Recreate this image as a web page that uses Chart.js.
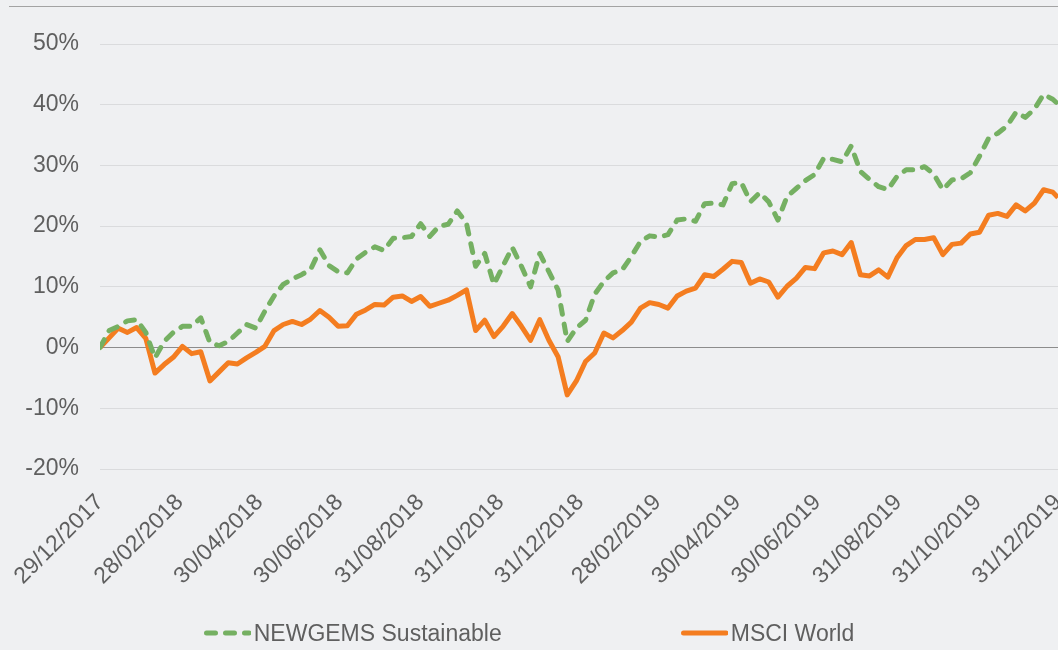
<!DOCTYPE html>
<html>
<head>
<meta charset="utf-8">
<script src="https://cdn.jsdelivr.net/npm/chart.js@4.4.1/dist/chart.umd.min.js"></script>
<style>
  html, body { margin: 0; padding: 0; background: #eff0f2; }
  #wrap { position: relative; width: 1058px; height: 650px; overflow: hidden; }
  #topline { position: absolute; left: 9px; right: 0; top: 6px; height: 1px; background: #a3a3a3; }
  #legend { position: absolute; left: 0; width: 1058px; top: 620px; display: flex; justify-content: center; gap: 179px;
            font: 23px "Liberation Sans", Arial, sans-serif; color: #5f5f5f; line-height: 26px; }
  .item { display: flex; align-items: center; }
  .item svg { margin-right: 3px; }
</style>
</head>
<body>
<div id="wrap">
  <canvas id="chart" width="1058" height="650"></canvas>
  <div id="topline"></div>
  <div id="legend"></div>
</div>
<script>
// x axis: days since 29/12/2017, tick labels every two months
var tickDays = [0, 61, 122, 183, 245, 306, 367, 426, 487, 548, 610, 671, 732];
var tickLabels = ['29/12/2017', '28/02/2018', '30/04/2018', '30/06/2018', '31/08/2018', '31/10/2018',
                  '31/12/2018', '28/02/2019', '30/04/2019', '30/06/2019', '31/08/2019', '31/10/2019', '31/12/2019'];

// weekly observations (day offsets), last one on 31/12/2019
var days = [];
for (var d = 0; d <= 728; d += 7) days.push(d);
days.push(732);

// cumulative performance, %
var newgems = [
  0, 2.8, 3.5, 4.4, 4.6, 2.5, -1.7, 1.0, 2.5, 3.5,
  3.5, 4.9, 0.8, 0.3, 1.0, 2.4, 3.8, 3.2, 6.0, 8.5,
  10.4, 11.3, 12.0, 12.9, 16.1, 13.5, 12.5, 12.3, 14.6, 15.7,
  16.6, 16.0, 18.0, 18.1, 18.3, 20.4, 18.3, 20.0, 20.3, 22.5,
  20.5, 13.4, 15.5, 10.4, 13.5, 16.5, 13.4, 10.0, 15.5, 12.5,
  9.5, 1.0, 3.2, 4.5, 8.8, 10.9, 12.3, 12.8, 15.0, 17.5,
  18.4, 18.2, 18.6, 21.0, 21.2, 20.8, 23.7, 23.8, 23.5, 27.0,
  27.2, 24.0, 25.5, 24.0, 21.0, 24.9, 26.2, 27.5, 28.5, 31.2,
  31.0, 30.6, 33.2, 29.0, 27.7, 26.5, 26.0, 28.2, 29.3, 29.3,
  29.8, 28.6, 26.0, 27.6, 27.8, 28.8, 31.5, 34.5, 35.3, 36.5,
  38.8, 37.9, 39.3, 41.7, 40.9, 40.1
];
var msci = [
  0, 1.6, 3.2, 2.5, 3.3, 1.5, -4.2, -2.8, -1.6, 0.2,
  -1.0, -0.7, -5.5, -4.0, -2.5, -2.7, -1.7, -0.8, 0.2, 2.8,
  3.8, 4.3, 3.8, 4.7, 6.1, 5.0, 3.5, 3.6, 5.5, 6.2,
  7.1, 7.0, 8.3, 8.5, 7.6, 8.4, 6.8, 7.3, 7.8, 8.6,
  9.5, 2.8, 4.5, 1.8, 3.5, 5.6, 3.5, 1.2, 4.6, 1.2,
  -1.5, -7.8, -5.5, -2.3, -0.9, 2.4, 1.6, 2.8, 4.2, 6.5,
  7.4, 7.1, 6.5, 8.5, 9.3, 9.8, 12.0, 11.7, 12.9, 14.2,
  14.0, 10.6, 11.3, 10.8, 8.3, 10.1, 11.4, 13.2, 13.0, 15.6,
  15.9, 15.3, 17.3, 12.0, 11.8, 12.8, 11.6, 14.8, 16.8, 17.8,
  17.8, 18.1, 15.3, 17.0, 17.2, 18.7, 19.0, 21.8, 22.1, 21.6,
  23.5, 22.5, 23.8, 26.0, 25.6, 24.7
];

var font = { family: '"Liberation Sans", Arial, sans-serif', size: 23 };
var textColor = '#5f5f5f';

function points(values) {
  return days.map(function (d, i) { return { x: d, y: values[i] }; });
}

var chart = new Chart(document.getElementById('chart'), {
  type: 'line',
  data: {
    datasets: [{
      label: 'NEWGEMS Sustainable',
      data: points(newgems),
      borderColor: '#75b062',
      borderWidth: 5,
      borderDash: [9, 10],
      borderCapStyle: 'round'
    }, {
      label: 'MSCI World',
      data: points(msci),
      borderColor: '#f47d20',
      borderWidth: 5
    }]
  },
  options: {
    responsive: false,
    animation: false,
    layout: { padding: { top: 44, right: 0, bottom: 0, left: 0 } },
    plugins: { legend: { display: false }, tooltip: { enabled: false } },
    elements: {
      point: { radius: 0 },
      line: { tension: 0, borderJoinStyle: 'round' }
    },
    scales: {
      x: {
        type: 'linear',
        min: 0,
        max: 732,
        afterBuildTicks: function (s) { s.ticks = tickDays.map(function (v) { return { value: v }; }); },
        afterFit: function (s) { s.height = 181; s.paddingLeft = 0; s.paddingRight = 0; },
        grid: { display: false },
        border: { display: false },
        ticks: {
          autoSkip: false,
          minRotation: 45,
          maxRotation: 45,
          padding: 12,
          color: textColor,
          font: font,
          callback: function (v) { return tickLabels[tickDays.indexOf(v)]; }
        }
      },
      y: {
        min: -20,
        max: 50,
        afterFit: function (s) { s.width = 100; },
        border: { display: false },
        grid: {
          drawTicks: false,
          lineWidth: 1,
          color: function (c) { return c.tick && c.tick.value === 0 ? '#8c8c8c' : '#dadbdd'; }
        },
        ticks: {
          stepSize: 10,
          padding: 21,
          color: textColor,
          font: font,
          callback: function (v) { return v + '%'; }
        }
      }
    }
  }
});

// legend below the plot, built from the datasets
var legend = document.getElementById('legend');
chart.data.datasets.forEach(function (ds) {
  var item = document.createElement('div');
  item.className = 'item';
  var dash = ds.borderDash ? ' stroke-dasharray="' + ds.borderDash.join(' ') + '"' : '';
  item.innerHTML = '<svg width="47" height="10"><line x1="2.5" y1="5" x2="45" y2="5" stroke="' + ds.borderColor +
    '" stroke-width="5" stroke-linecap="round"' + dash + '/></svg><span>' + ds.label + '</span>';
  legend.appendChild(item);
});
</script>
</body>
</html>
